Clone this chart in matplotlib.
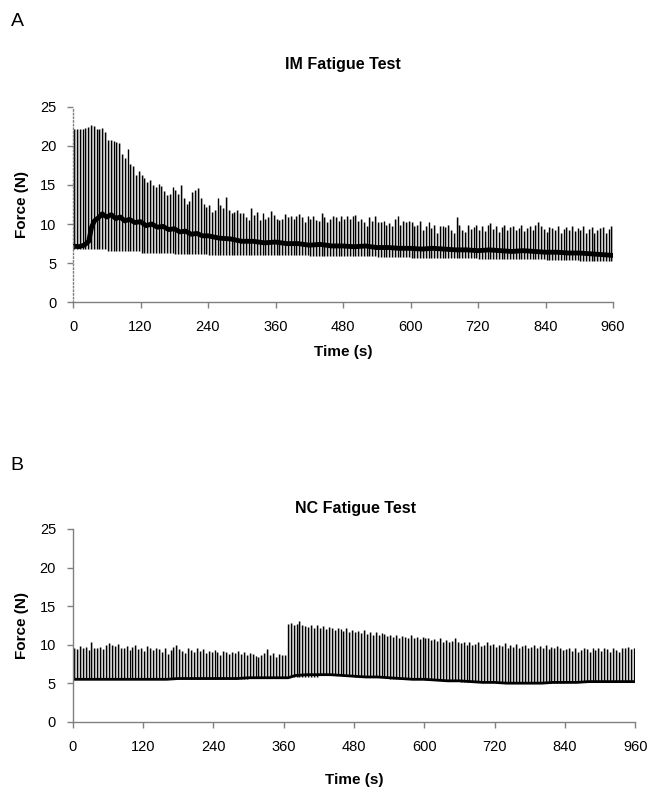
import numpy as np
import matplotlib
matplotlib.use("Agg")
import matplotlib.pyplot as plt

plt.rcParams['font.family'] = ['Liberation Sans', 'DejaVu Sans']

# ---------------- data ----------------
# one contraction every 5 s, first one at ~2 s
period = 5.0
first_t = 2.0

# IM fatigue test: peak force of each contraction (N), one row per minute
im_peaks = [
    22.1, 22.1, 22.1, 22.2, 22.3, 22.4, 22.6, 22.5, 22.2, 22.1, 22.3, 21.8,
    20.8, 20.7, 20.6, 20.5, 20.4, 19.0, 18.4, 19.6, 17.7, 17.4, 16.3, 16.8,
    16.3, 15.9, 15.4, 15.6, 15.0, 14.8, 15.1, 14.9, 14.2, 13.7, 13.9, 14.8,
    14.3, 13.8, 15.0, 13.3, 12.6, 12.9, 14.1, 14.3, 14.6, 13.3, 12.6, 12.2,
    12.4, 11.6, 11.8, 13.3, 12.4, 12.0, 13.5, 11.8, 11.4, 11.6, 11.8, 11.4,
    11.4, 10.9, 10.5, 12.1, 11.2, 11.6, 10.5, 11.4, 10.7, 10.9, 11.7, 11.2,
    10.7, 10.5, 10.6, 11.3, 10.9, 11.0, 10.7, 11.0, 11.3, 10.9, 10.3, 11.0,
    10.6, 11.0, 10.5, 10.4, 11.4, 10.9, 10.2, 10.7, 11.0, 10.9, 10.4, 11.0,
    10.6, 11.0, 10.7, 11.0, 11.1, 10.4, 10.6, 10.3, 9.7, 10.9, 10.4, 11.0,
    10.3, 10.2, 10.4, 9.9, 10.1, 9.7, 10.7, 11.0, 9.9, 10.4, 10.2, 10.4,
    10.3, 9.7, 9.9, 10.4, 9.2, 9.7, 10.2, 9.5, 9.9, 8.8, 9.7, 9.8,
    9.6, 9.9, 9.2, 8.8, 10.9, 9.9, 9.2, 9.0, 9.9, 9.4, 9.6, 9.9,
    9.3, 9.8, 9.1, 9.9, 10.1, 9.4, 9.7, 9.0, 9.6, 9.9, 9.3, 9.6,
    9.8, 9.2, 9.5, 9.9, 9.1, 9.5, 9.7, 9.3, 9.9, 10.2, 9.7, 9.4,
    9.0, 9.6, 9.5, 9.2, 9.7, 8.9, 9.4, 9.6, 9.3, 9.8, 9.1, 9.5,
    9.2, 9.7, 8.9, 9.4, 9.6, 8.8, 9.2, 9.5, 9.6, 8.9, 9.4, 9.7,
]
# lowest force reached after each contraction, one value per minute
im_lows = [6.8, 6.5, 6.3, 6.2, 6.1, 6.0, 6.0, 5.9,
           5.9, 5.8, 5.7, 5.6, 5.5, 5.5, 5.4, 5.3]
# resting force between contractions (thick noisy band)
im_base_t = [0, 10, 20, 28, 33, 38, 45, 52, 60, 68, 76, 84, 92, 100, 110,
             120, 130, 140, 150, 160, 170, 180, 190, 200, 210, 220, 230,
             240, 260, 280, 300, 320, 340, 360, 380, 400, 420, 440, 460,
             480, 500, 520, 540, 560, 580, 600, 620, 640, 660, 680, 700,
             720, 740, 760, 780, 800, 820, 840, 860, 880, 900, 920, 940,
             958]
im_base_v = [7.2, 7.1, 7.3, 7.8, 9.6, 10.4, 10.8, 11.3, 10.9, 11.2, 10.7,
             10.9, 10.4, 10.6, 10.2, 10.3, 9.8, 10.0, 9.6, 9.7, 9.3, 9.4,
             9.0, 9.1, 8.7, 8.8, 8.5, 8.5, 8.2, 8.1, 7.8, 7.8, 7.6, 7.7,
             7.5, 7.5, 7.3, 7.4, 7.2, 7.2, 7.1, 7.2, 7.0, 7.0, 6.9, 6.9,
             6.8, 6.9, 6.8, 6.7, 6.7, 6.6, 6.7, 6.6, 6.5, 6.6, 6.5, 6.4,
             6.4, 6.3, 6.3, 6.2, 6.1, 6.0]

# NC fatigue test
nc_peaks = [
    9.6, 9.4, 9.8, 9.5, 9.7, 9.3, 10.4, 9.5, 9.6, 9.7, 9.4, 10.0,
    10.2, 9.9, 9.8, 10.1, 9.6, 9.5, 9.8, 9.3, 9.7, 9.9, 9.4, 9.6,
    9.2, 9.8, 9.5, 9.3, 9.6, 9.4, 9.1, 9.5, 8.8, 9.3, 9.7, 10.0,
    9.4, 9.2, 8.9, 9.5, 9.3, 9.1, 9.6, 9.2, 9.4, 8.9, 9.2, 9.0,
    9.3, 9.1, 8.7, 9.2, 9.0, 8.8, 9.1, 8.9, 9.2, 8.8, 9.0, 8.6,
    8.9, 8.8, 8.5, 8.4, 8.7, 8.9, 9.4, 8.6, 8.9, 8.4, 8.8, 8.7,
    8.6, 12.7, 12.8, 12.5, 12.7, 13.1, 12.6, 12.4, 12.3, 12.6, 12.1, 12.5,
    12.2, 12.4, 12.0, 12.3, 12.1, 11.9, 12.2, 12.0, 11.8, 12.1, 11.7, 11.9,
    11.6, 11.8, 11.5, 11.9, 11.4, 11.7, 11.3, 11.6, 11.2, 11.5, 11.4, 11.1,
    11.3, 11.0, 11.2, 10.9, 11.1, 11.0, 10.8, 11.2, 10.9, 11.0, 10.7, 11.0,
    10.8, 10.9, 10.6, 10.7, 10.5, 10.8, 10.4, 10.6, 10.3, 10.5, 10.9, 10.4,
    10.2, 10.4, 10.0, 10.3, 9.9, 10.1, 10.3, 9.8, 10.0, 10.4, 9.9, 10.1,
    9.7, 10.0, 9.8, 10.2, 9.6, 9.9, 9.7, 10.1, 9.5, 9.8, 10.0, 9.6,
    9.7, 9.9, 9.5, 9.8, 9.6, 9.9, 9.4, 9.7, 9.5, 9.8, 9.6, 9.3,
    9.4, 9.6, 9.2, 9.5, 9.0, 9.3, 9.6, 9.4, 9.1, 9.5, 9.3, 9.6,
    9.2, 9.5, 9.4, 9.1, 9.6, 9.3, 9.0, 9.5, 9.6, 9.7, 9.4, 9.5,
]
nc_lows = [5.5, 5.5, 5.5, 5.6, 5.6, 5.7, 5.8, 6.0,
           5.8, 5.6, 5.4, 5.2, 5.0, 5.0, 5.1, 5.2]
nc_base_t = [0, 20, 40, 60, 80, 100, 120, 140, 160, 180, 200, 220, 240, 260,
             280, 300, 320, 340, 360, 368, 380, 400, 420, 440, 460, 480,
             500, 520, 540, 560, 580, 600, 620, 640, 660, 680, 700, 720,
             740, 760, 780, 800, 820, 840, 860, 880, 900, 920, 940, 958]
nc_base_v = [5.5, 5.5, 5.5, 5.5, 5.5, 5.5, 5.5, 5.5, 5.5, 5.6, 5.6, 5.6,
             5.6, 5.6, 5.6, 5.7, 5.7, 5.7, 5.7, 5.7, 6.0, 6.1, 6.1, 6.1,
             6.0, 5.9, 5.8, 5.8, 5.7, 5.6, 5.5, 5.5, 5.4, 5.3, 5.3, 5.2,
             5.1, 5.1, 5.0, 5.0, 5.0, 5.0, 5.1, 5.1, 5.1, 5.2, 5.2, 5.2,
             5.2, 5.2]

x_ticks = [0, 120, 240, 360, 480, 600, 720, 840, 960]
y_ticks = [0, 5, 10, 15, 20, 25]

# ---------------- plotting ----------------
AXIS_GRAY = '#808080'

fig = plt.figure(figsize=(6.53, 7.94), dpi=100)


def draw_panel(rect, peaks, lows, base_t, base_v, band_lw):
    ax = fig.add_axes(rect)
    peaks = np.asarray(peaks)
    t = first_t + period * np.arange(len(peaks))
    low_each = np.repeat(lows, 12)[:len(peaks)]
    # each contraction: dark rising edge + faint falling edge
    ax.vlines(t + 1.6, low_each, peaks, color='#b5b5b5', lw=0.5)
    ax.vlines(t, low_each, peaks, color='black', lw=1.0)
    ax.plot(base_t, base_v, color='black', lw=band_lw, solid_joinstyle='round')

    ax.set_xlim(0, 960)
    ax.set_ylim(0, 25)
    ax.set_xticks(x_ticks)
    ax.set_yticks(y_ticks)
    for s in ('top', 'right'):
        ax.spines[s].set_visible(False)
    for s in ('left', 'bottom'):
        ax.spines[s].set_color(AXIS_GRAY)
        ax.spines[s].set_linewidth(1.0)
    ax.tick_params(axis='both', colors=AXIS_GRAY, labelcolor='black',
                   direction='out', length=4, width=1.0, labelsize=10.5)
    ax.tick_params(axis='y', pad=8)
    ax.tick_params(axis='x', pad=9)
    ax.set_xlabel('Time (s)', fontsize=11, fontweight='bold')
    ax.set_ylabel('Force (N)', fontsize=11, fontweight='bold', labelpad=8)
    return ax


W, H = 653.0, 794.0
axA = draw_panel([73 / W, 1 - 302.3 / H, 540 / W, 195.6 / H],
                 im_peaks, im_lows, im_base_t, im_base_v, 3.5)
axA.spines['left'].set_linestyle(':')
axA.xaxis.labelpad = 8

axB = draw_panel([72.7 / W, 1 - 721.7 / H, 562.6 / W, 192.7 / H],
                 nc_peaks, nc_lows, nc_base_t, nc_base_v, 2.0)
axB.xaxis.labelpad = 14

fig.text(343 / W, 1 - 64 / H, 'IM Fatigue Test', ha='center', va='center',
         fontsize=11.5, fontweight='bold')
fig.text(356 / W, 1 - 508 / H, 'NC Fatigue Test', ha='center', va='center',
         fontsize=11.5, fontweight='bold')
fig.text(17 / W, 1 - 22 / H, 'A', ha='center', va='center', fontsize=14)
fig.text(17 / W, 1 - 465 / H, 'B', ha='center', va='center', fontsize=14)

fig.savefig('out.png', dpi=100)
